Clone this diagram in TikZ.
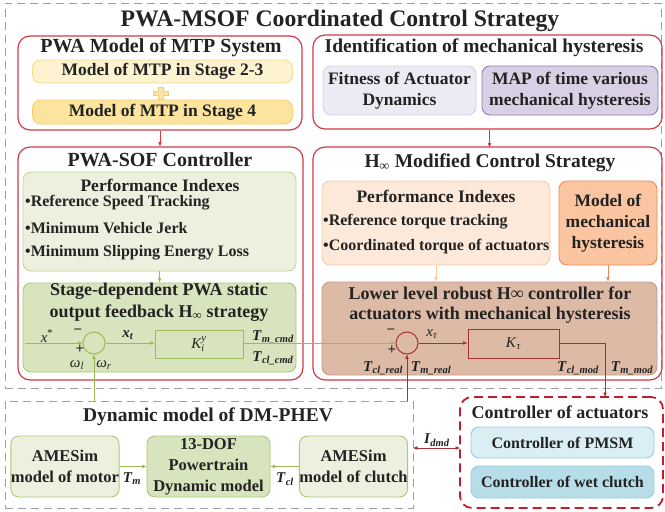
\documentclass[tikz,border=0pt]{standalone}
\usepackage{fontspec}
\setmainfont{Liberation Serif}
\usetikzlibrary{arrows.meta}
\definecolor{redb}{RGB}{208,58,68}
\definecolor{grayd}{RGB}{160,160,160}
\definecolor{txt}{RGB}{35,35,35}
\definecolor{yel1}{RGB}{253,243,208}
\definecolor{yel1d}{RGB}{247,218,140}
\definecolor{yel2}{RGB}{252,228,158}
\definecolor{yel2d}{RGB}{244,208,112}
\definecolor{lav1}{RGB}{238,234,243}
\definecolor{lav1d}{RGB}{214,206,228}
\definecolor{lav2}{RGB}{218,208,229}
\definecolor{lav2d}{RGB}{142,124,175}
\definecolor{grn1}{RGB}{235,241,222}
\definecolor{grn1d}{RGB}{195,214,155}
\definecolor{grn2}{RGB}{215,228,189}
\definecolor{grn2d}{RGB}{170,200,110}
\definecolor{grnl}{RGB}{155,187,89}
\definecolor{pch}{RGB}{253,233,217}
\definecolor{pchd}{RGB}{250,200,160}
\definecolor{org}{RGB}{250,197,160}
\definecolor{orgd}{RGB}{240,140,80}
\definecolor{brn}{RGB}{220,186,166}
\definecolor{brnd}{RGB}{200,152,132}
\definecolor{dred}{RGB}{165,50,50}
\definecolor{cred}{RGB}{192,30,45}
\definecolor{blu1}{RGB}{218,238,243}
\definecolor{blu2}{RGB}{183,222,232}
\definecolor{blud}{RGB}{147,205,221}
\tikzset{
  every node/.style={text=txt},
  f24/.style={font=\fontsize{23.7}{28}\selectfont\bfseries},
  f20/.style={font=\fontsize{20}{23}\selectfont\bfseries},
  f19/.style={font=\fontsize{19.5}{22}\selectfont\bfseries},
  f18/.style={font=\fontsize{18}{21}\selectfont\bfseries},
  f17/.style={font=\fontsize{17.5}{21}\selectfont\bfseries},
  f16/.style={font=\fontsize{16.5}{21}\selectfont\bfseries},
  f15/.style={font=\fontsize{16}{20}\selectfont\bfseries},
  mathlbl/.style={font=\fontsize{15}{18}\selectfont, inner sep=0},
  redbox/.style={draw=redb, line width=1.2pt, rounded corners=12pt, inner sep=0},
  subbox/.style={rounded corners=8pt, line width=0.9pt, inner sep=0, align=center},
  graybox/.style={draw=grayd, line width=1pt, dash pattern=on 8pt off 5pt},
  tip/.style={-{Triangle[length=4.5pt,width=3.2pt]}},
  sumc/.style={circle, minimum size=22pt, inner sep=0, line width=1pt},
  kblk/.style={rectangle, inner sep=0, line width=1pt},
}
\newcommand{\bi}[1]{\textbf{\textit{#1}}}
\begin{document}
\begin{tikzpicture}[x=1pt,y=-1pt]
\useasboundingbox (0,0) rectangle (665,512);
% outer dashed frame
\node[graybox, minimum width=656pt, minimum height=385pt, inner sep=0] (outer) at (333,195.5) {};
\node[f24] (title) at (340,21) {PWA-MSOF Coordinated Control Strategy};

% PWA model
\node[redbox, minimum width=284pt, minimum height=94pt] (pwamodel) at (160,83) {};
\node[f20] (pwat) at (161,48) {PWA Model of MTP System};
\node[subbox, draw=yel1d, fill=yel1, minimum width=260pt, minimum height=23pt, f17] (m23) at (162.5,71.5) {Model of MTP in Stage 2-3};
\node[subbox, draw=yel2d, fill=yel2, minimum width=260pt, minimum height=24pt, f17] (m4) at (162.5,112) {Model of MTP in Stage 4};
\draw[draw=yel2d, fill=yel2, line width=0.8pt] (158,87) -- (163,87) -- (163,91) -- (168,91) -- (168,95) -- (163,95) -- (163,99) -- (158,99) -- (158,95) -- (153,95) -- (153,91) -- (158,91) -- cycle;
\node[inner sep=0] (plus) at (160.5,93) {};

% Identification
\node[redbox, minimum width=349pt, minimum height=94pt] (ident) at (487.5,82) {};
\node[f19] (identt) at (484,48) {Identification of mechanical hysteresis};
\node[subbox, draw=lav1d, fill=lav1, minimum width=153pt, minimum height=49pt, f17] (fit) at (399.5,90.5) {Fitness of Actuator\\Dynamics};
\node[subbox, draw=lav2d, fill=lav2, minimum width=176pt, minimum height=49pt, f17] (map) at (570,90.5) {MAP of time various\\mechanical hysteresis};

% PWA-SOF controller
\node[redbox, minimum width=285pt, minimum height=233pt] (sof) at (160.5,263.5) {};
\node[f20] (soft) at (160,160) {PWA-SOF Controller};
\node[subbox, draw=grn1d, fill=grn1, minimum width=273pt, minimum height=99pt] (pi1) at (159.5,221.5) {};
\node[f17] (pi1t) at (160,185) {Performance Indexes};
\node[f15, anchor=west, inner sep=0] (b11) at (25,203) {\textbullet Reference Speed Tracking};
\node[f15, anchor=west, inner sep=0] (b12) at (25,228) {\textbullet Minimum Vehicle Jerk};
\node[f15, anchor=west, inner sep=0] (b13) at (25,253) {\textbullet Minimum Slipping Energy Loss};
\node[subbox, draw=grn2d, fill=grn2, minimum width=273pt, minimum height=89pt] (stage) at (159.5,327.5) {};
\node[f18] (staget1) at (159,291) {Stage-dependent PWA static};
\node[f18] (staget2) at (159,313) {output feedback H\textsubscript{∞} strategy};
\node[sumc, draw=grnl] (sum1) at (94,343) {};
\node[kblk, draw=grnl, minimum width=88pt, minimum height=28pt, mathlbl] (kbox) at (199,344) {$\mathit{K}_{\mathit{i}}^{\mathit{y}}$};
\coordinate (xs) at (25,343);
\node[mathlbl] (xstar) at (47,336) {\textit{x}\textsuperscript{*}};
\node[mathlbl] (m1) at (78,332) {\textbf{−}};
\node[mathlbl] (p1) at (80,349) {\textbf{+}};
\node[mathlbl] (wl) at (77,365) {\textit{ω}\textsubscript{\textit{l}}};
\node[mathlbl] (wr) at (104,365) {\textit{ω}\textsubscript{\textit{r}}};
\node[mathlbl] (xt) at (128,335) {\bi{x}\textsubscript{\bi{t}}};
\node[mathlbl] (tmc) at (273,337) {\bi{T}\textsubscript{\bi{m\_cmd}}};
\node[mathlbl] (tclc) at (273,358) {\bi{T}\textsubscript{\bi{cl\_cmd}}};

% H-infinity modified
\node[redbox, minimum width=349pt, minimum height=233pt] (hinf) at (487.5,263.5) {};
\node[f19] (hinft) at (490,163) {H\textsubscript{∞} Modified Control Strategy};
\node[subbox, draw=pchd, fill=pch, minimum width=228pt, minimum height=84pt] (pi2) at (436,223) {};
\node[f17] (pi2t) at (436,196) {Performance Indexes};
\node[f15, anchor=west, inner sep=0] (b21) at (323,222) {\textbullet Reference torque tracking};
\node[f15, anchor=west, inner sep=0] (b22) at (323,247) {\textbullet Coordinated torque of actuators};
\node[subbox, draw=orgd, fill=org, minimum width=98pt, minimum height=84pt, f17] (mmh) at (608,223) {Model of\\mechanical\\hysteresis};
\node[subbox, draw=brnd, fill=brn, minimum width=335pt, minimum height=93pt] (lower) at (489.5,328.5) {};
\node[f18] (lowt1) at (490,293) {Lower level robust H∞ controller for};
\node[f18] (lowt2) at (490,315) {actuators with mechanical hysteresis};
\node[sumc, draw=dred] (sum2) at (407,343) {};
\node[kblk, draw=dred, minimum width=91pt, minimum height=29pt, mathlbl] (ktau) at (513.5,343.5) {\textit{K}\textsubscript{\textit{τ}}};
\node[mathlbl] (m2) at (391,332) {\textbf{−}};
\node[mathlbl] (p2) at (392,350) {\textbf{+}};
\node[mathlbl] (xtau) at (432,334) {\textit{x}\textsubscript{\textit{τ}}};
\node[mathlbl] (tclr) at (383,368) {\bi{T}\textsubscript{\bi{cl\_real}}};
\node[mathlbl] (tmr) at (431,368) {\bi{T}\textsubscript{\bi{m\_real}}};
\node[mathlbl] (tclm) at (578,368) {\bi{T}\textsubscript{\bi{cl\_mod}}};
\node[mathlbl] (tmm) at (632,368) {\bi{T}\textsubscript{\bi{m\_mod}}};

% Dynamic model
\node[graybox, minimum width=408pt, minimum height=107pt, inner sep=0] (dyn) at (209,454.5) {};
\node[f19] (dynt) at (208,417) {Dynamic model of DM-PHEV};
\node[subbox, draw=grn2d, fill=grn1, minimum width=106pt, minimum height=61pt, f16] (motor) at (65,466.5) {AMESim\\model of motor};
\node[subbox, draw=grn2d, fill=grn2, minimum width=123pt, minimum height=61pt, f16] (dof) at (208.5,466.5) {13-DOF\\Powertrain\\Dynamic model};
\node[subbox, draw=grn2d, fill=grn1, minimum width=107pt, minimum height=61pt, f16] (clutch) at (353.5,466.5) {AMESim\\model of clutch};
\node[mathlbl] (tm) at (132,479) {\bi{T}\textsubscript{\bi{m}}};
\node[mathlbl] (tcl) at (285,479) {\bi{T}\textsubscript{\bi{cl}}};

% Controller of actuators
\node[draw=cred, line width=1.8pt, dash pattern=on 9pt off 5pt, rounded corners=12pt, minimum width=203pt, minimum height=111pt, inner sep=0] (ctrl) at (561.5,452.5) {};
\node[f18] (ctrlt) at (560,412) {Controller of actuators};
\node[subbox, draw=blud, fill=blu1, minimum width=183pt, minimum height=31pt, f15] (pmsm) at (562.5,442.5) {Controller of PMSM};
\node[subbox, draw=blud, fill=blu2, minimum width=183pt, minimum height=32pt, f15] (wet) at (562.5,482) {Controller of wet clutch};
\coordinate (ia) at (413,448);
\coordinate (ib) at (460,448);
\node[mathlbl] (idmd) at (437,440) {\bi{I}\textsubscript{\bi{dmd}}};
\coordinate (c1) at (605,397);

% connectors
\draw[redb, line width=0.9pt, tip] (pwamodel.south) -- (pwamodel.south |- sof.north);
\draw[redb, line width=0.9pt, tip] (ident.south -| map.west) ++(8,0) -- ++(0,18);
\draw[grnl, line width=0.9pt, tip] (pi1.south) -- (pi1.south |- stage.north);
\draw[pchd, line width=1pt, tip] (pi2.south) -- (pi2.south |- lower.north);
\draw[orgd, line width=1pt, tip] (mmh.south) -- (mmh.south |- lower.north);
\draw[grnl, line width=0.9pt, tip] (xs) -- (sum1.west);
\draw[grnl, line width=0.9pt, tip] (sum1.east) -- (kbox.west |- sum1.east);
\draw[grnl, line width=0.9pt, tip] (kbox.east |- sum1.east) -- (sum2.west);
\draw[grnl, line width=0.9pt, tip] (sum1 |- dyn.north) -- (sum1.south);
\draw[dred, line width=0.9pt, tip] (sum2 |- dyn.north) -- (sum2.south);
\draw[dred, line width=0.9pt, tip] (sum2.east) -- (ktau.west |- sum2.east);
\draw[dred, line width=0.9pt, tip] (ktau.east |- sum2.east) -| (c1);
\draw[dred, line width=0.9pt, {Triangle[length=4.5pt,width=3.2pt]}-{Triangle[length=4.5pt,width=3.2pt]}] (ia) -- (ib);
\draw[grnl, line width=0.9pt, tip] (motor.east) -- (dof.west);
\draw[grnl, line width=0.9pt, tip] (clutch.west) -- (dof.east);
\end{tikzpicture}
\end{document}
